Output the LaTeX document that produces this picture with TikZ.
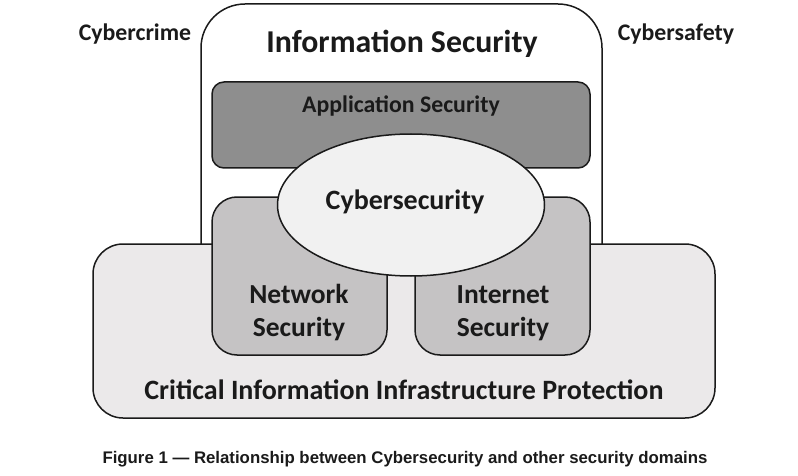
\documentclass[tikz,border=0pt]{standalone}
\usepackage{fontspec}
\setmainfont{Carlito}
\newfontfamily\capfont{Liberation Sans}
\usetikzlibrary{shapes.geometric}
\definecolor{appgray}{HTML}{8E8E8E}
\definecolor{netgray}{HTML}{C5C3C4}
\definecolor{ciipgray}{HTML}{EBE9EA}
\definecolor{ellgray}{HTML}{F1F1F1}
\definecolor{inkc}{HTML}{1A1A1A}
\tikzset{
  box/.style={draw=inkc, line width=1.5pt, rectangle, inner sep=0pt},
  lbl/.style={font=\bfseries, text=inkc, align=center, inner sep=0pt},
  twoline/.style={lbl, anchor=base, font=\bfseries\fontsize{27.5}{33}\selectfont},
}
\begin{document}
\begin{tikzpicture}[x=1pt,y=-1pt]
\useasboundingbox[fill=white] (0,0) rectangle (798,476);
% Information Security
\node[box, fill=white, rounded corners=44pt, minimum width=401pt, minimum height=296pt] (info) at (401.5,152) {};
\node[lbl, font=\bfseries\fontsize{31.8}{34}\selectfont] (infot) at (402,44) {Information Security};
% Application Security
\node[box, fill=appgray, rounded corners=12pt, minimum width=378pt, minimum height=86pt] (app) at (401,125) {};
\node[lbl, font=\bfseries\fontsize{23.8}{26}\selectfont] (appt) at (401,106) {Application Security};
% CIIP
\node[box, fill=ciipgray, rounded corners=30pt, minimum width=622pt, minimum height=174pt] (ciip) at (404,331) {};
\node[lbl, font=\bfseries\fontsize{28}{30}\selectfont] (ciipt) at (404,390) {Critical Information Infrastructure Protection};
% Network / Internet Security
\node[box, fill=netgray, rounded corners=25pt, minimum width=175pt, minimum height=158pt] (net) at (299.5,276) {};
\node[box, fill=netgray, rounded corners=25pt, minimum width=175pt, minimum height=158pt] (inet) at (502.5,276) {};
\node[twoline] (nett1) at (299,303) {Network};
\node[twoline] (nett2) at (299,336) {Security};
\node[twoline] (inett1) at (503,303) {Internet};
\node[twoline] (inett2) at (503,336) {Security};
% Cybersecurity ellipse
\node[ellipse, draw=inkc, line width=1.5pt, fill=ellgray, minimum width=267pt, minimum height=142pt, inner sep=0pt] (cyber) at (411,205) {};
\node[lbl, font=\bfseries\fontsize{28}{30}\selectfont] (cybert) at (405,202) {Cybersecurity};
% side labels
\node[lbl, font=\bfseries\fontsize{23.8}{26}\selectfont] (crime) at (135,34) {Cybercrime};
\node[lbl, font=\bfseries\fontsize{23.8}{26}\selectfont] (safety) at (676,34) {Cybersafety};
% caption
\node[lbl, font=\capfont\bfseries\fontsize{16.8}{19}\selectfont] (cap) at (405,459) {Figure 1 — Relationship between Cybersecurity and other security domains};
\end{tikzpicture}
\end{document}
